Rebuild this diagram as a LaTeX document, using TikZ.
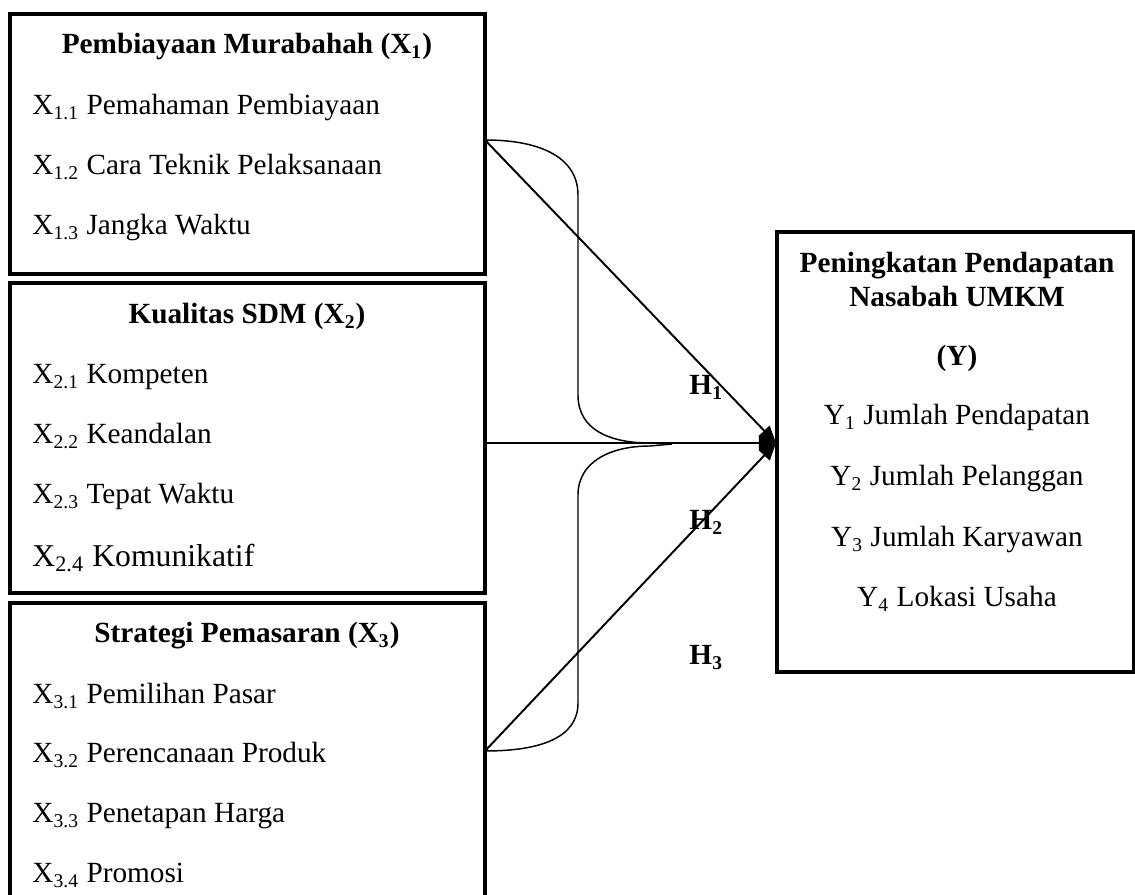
\documentclass[tikz,border=0pt]{standalone}
\usepackage{fontspec}
\setmainfont{Liberation Serif}
\usetikzlibrary{arrows.meta,positioning,fit}

\begin{document}
\begin{tikzpicture}[x=0.41pt,y=-0.41pt,
  box/.style={draw,line width=1.9pt,inner sep=0pt},
  item/.style={anchor=base west,inner sep=0pt,font=\fontsize{12}{14}\selectfont},
  head/.style={anchor=base,inner sep=0pt,font=\fontsize{12}{14}\selectfont\bfseries},
  hyp/.style={anchor=base west,inner sep=0pt,font=\fontsize{12}{14}\selectfont\bfseries},
  link/.style={line width=0.8pt,-{Triangle[length=7pt,width=6pt]}},
  brace/.style={line width=0.6pt}]
\useasboundingbox (0,0) rectangle (1135,895);

% kotak variabel
\node[box,fit={(10,14) (485,274)}] (x1) {};
\node[box,fit={(10,283) (485,593)}] (x2) {};
\node[box,fit={(10,603) (485,912)}] (x3) {};
\node[box,fit={(777,232) (1134,672)}] (y) {};

% X1
\node[head] (x1t) at (247,54) {Pembiayaan Murabahah (X\textsubscript{1})};
\node[item] (x11) at (32,115) {X\textsubscript{1.1} Pemahaman Pembiayaan};
\node[item] (x12) at (32,175) {X\textsubscript{1.2} Cara Teknik Pelaksanaan};
\node[item] (x13) at (32,235) {X\textsubscript{1.3} Jangka Waktu};

% X2
\node[head] (x2t) at (247,324) {Kualitas SDM (X\textsubscript{2})};
\node[item] (x21) at (32,384) {X\textsubscript{2.1} Kompeten};
\node[item] (x22) at (32,444) {X\textsubscript{2.2} Keandalan};
\node[item] (x23) at (32,504) {X\textsubscript{2.3} Tepat Waktu};
\node[item,font=\fontsize{13}{15}\selectfont] (x24) at (32,567) {X\textsubscript{2.4} Komunikatif};

% X3
\node[head] (x3t) at (247,643) {Strategi Pemasaran (X\textsubscript{3})};
\node[item] (x31) at (32,704) {X\textsubscript{3.1} Pemilihan Pasar};
\node[item] (x32) at (32,763) {X\textsubscript{3.2} Perencanaan Produk};
\node[item] (x33) at (32,823) {X\textsubscript{3.3} Penetapan Harga};
\node[item] (x34) at (32,883) {X\textsubscript{3.4} Promosi};

% Y
\node[head] (yt1) at (957,273) {Peningkatan Pendapatan};
\node[head] (yt2) at (957,307) {Nasabah UMKM};
\node[head] (yt3) at (957,366) {(Y)};
\node[item,anchor=base] (y1) at (957,425) {Y\textsubscript{1} Jumlah Pendapatan};
\node[item,anchor=base] (y2) at (957,486) {Y\textsubscript{2} Jumlah Pelanggan};
\node[item,anchor=base] (y3) at (957,547) {Y\textsubscript{3} Jumlah Karyawan};
\node[item,anchor=base] (y4) at (957,607) {Y\textsubscript{4} Lokasi Usaha};

% titik hubung
\coordinate (s1) at (485,140);
\coordinate (s2) at (485,443);
\coordinate (s3) at (485,751);
\coordinate (t) at (776,443);
\coordinate (bt) at (672,444);

% kurung kurawal
\draw[brace] (s1) .. controls (545,140) and (578,160) .. (578,195) -- (578,395)
  .. controls (578,430) and (610,443) .. (650,443) -- (bt);
\draw[brace] (bt) -- (650,446) .. controls (610,446) and (578,462) .. (578,495)
  -- (578,703) .. controls (578,738) and (540,751) .. (s3);

% panah
\draw[link] (s1) -- (t);
\draw[link] (s2) -- (t);
\draw[link] (s3) -- (t);

\node[hyp] (h1) at (689,395) {H\textsubscript{1}};
\node[hyp] (h2) at (689,530) {H\textsubscript{2}};
\node[hyp] (h3) at (689,665) {H\textsubscript{3}};
\end{tikzpicture}
\end{document}
